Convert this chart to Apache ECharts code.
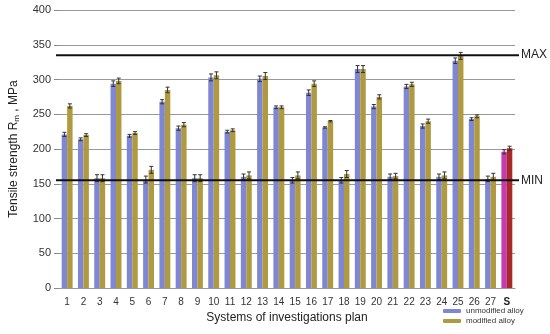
<!DOCTYPE html>
<html>
<head>
<meta charset="utf-8">
<script src="https://cdn.jsdelivr.net/npm/echarts@6/dist/echarts.min.js"></script>
<style>html,body{margin:0;padding:0;background:#fff}#c{width:550px;height:334px}</style>
</head>
<body>
<div id="c"></div>
<script>
const categories = ['1','2','3','4','5','6','7','8','9','10','11','12','13','14','15','16','17','18','19','20','21','22','23','24','25','26','27','S'];
const unmodified = [221,214,158,294,219,156,268,230,158,303,225,160,301,260,155,281,231,155,315,261,160,290,233,160,327,243,157,196];
const modified   = [262,220,158,298,223,170,285,235,158,306,227,162,305,260,162,294,240,164,315,275,161,293,240,162,334,247,160,201];
const unmodifiedErr = [3,2,5,4,2,5,3,3,5,5,2,4,4,2,4,4,1,4,5,3,4,3,3,4,4,2,4,3];
const modifiedErr   = [3,2,5,4,2,5,4,3,5,5,2,5,5,2,5,4,1,5,5,3,4,3,3,5,5,2,5,3];
const limitNames = ['MAX','MIN'];
const limitValues = [335,155];
const yTicks = [0,50,100,150,200,250,300,350,400];

const C_UN = '#7f87d2', C_MOD = '#b09a40', C_UN_S = '#c43cb0', C_MOD_S = '#a82a28';
const chart = echarts.init(document.getElementById('c'), null, {renderer:'canvas'});

function errRender(side){
  return function(params, api){
    const i = api.value(0), v = api.value(1), e = api.value(2);
    const c = api.coord([i, v]);
    const band = api.size([1,0])[0];
    const bw = band*0.335;
    const x = c[0] + side*bw/2;
    const top = api.coord([i, v+e])[1], bot = api.coord([i, v-e])[1];
    const cap = 2;
    const st = {stroke:'#333', lineWidth:1};
    return {type:'group', children:[
      {type:'line', shape:{x1:x,y1:top,x2:x,y2:bot}, style:st},
      {type:'line', shape:{x1:x-cap,y1:top,x2:x+cap,y2:top}, style:st},
      {type:'line', shape:{x1:x-cap,y1:bot,x2:x+cap,y2:bot}, style:st}
    ]};
  };
}

const option = {
  animation:false,
  textStyle:{fontFamily:'Liberation Sans, Arial, sans-serif'},
  grid:{left:55, right:35, top:10, bottom:46, containLabel:false},
  legend:{
    orient:'vertical', left:443, top:307, padding:0, itemWidth:18, itemHeight:4, itemGap:2,
    width:110, height:30,
    textStyle:{fontSize:8, color:'#333'},
    data:[{name:'unmodified alloy', itemStyle:{color:C_UN}},{name:'modified alloy', itemStyle:{color:C_MOD}}]
  },
  xAxis:{
    type:'category', data:categories,
    name:'Systems of investigations plan', nameLocation:'middle', nameGap:24,
    nameTextStyle:{fontSize:12, color:'#222'},
    axisLine:{show:true, lineStyle:{color:'#999'}},
    axisTick:{show:false},
    axisLabel:{interval:0, fontSize:10, color:'#333', margin:9,
      formatter:function(v){return v==='S' ? '{b|S}' : v;},
      rich:{b:{fontWeight:'bold', fontSize:10, color:'#222'}}}
  },
  yAxis:{
    type:'value', min:0, max:400, interval:50,
    name:'Tensile strength R{sub|m} , MPa', nameLocation:'middle', nameGap:38, nameRotate:90,
    nameTextStyle:{fontSize:12, color:'#222', rich:{sub:{fontSize:8, verticalAlign:'bottom', padding:[6,0,0,0]}}},
    axisLine:{show:false},
    axisTick:{show:true, length:5, lineStyle:{color:'#888'}},
    axisLabel:{fontSize:11, color:'#333', margin:8,
      formatter:function(v){return yTicks.indexOf(v)>=0 ? String(v) : '';}},
    splitLine:{lineStyle:{color:'#999', width:1}}
  },
  series:[
    {name:'unmodified alloy', type:'bar', barGap:'0%', barCategoryGap:'33%',
      data:unmodified.map((v,i)=>({value:v, itemStyle:{color: categories[i]==='S'?C_UN_S:C_UN}})),
      itemStyle:{color:C_UN}, z:2},
    {name:'modified alloy', type:'bar',
      data:modified.map((v,i)=>({value:v, itemStyle:{color: categories[i]==='S'?C_MOD_S:C_MOD}})),
      itemStyle:{color:C_MOD}, z:2},
    {type:'custom', renderItem:errRender(-1), z:5, silent:true,
      data:unmodified.map((v,i)=>[i,v,unmodifiedErr[i]]), encode:{x:0,y:1}},
    {type:'custom', renderItem:errRender(1), z:5, silent:true,
      data:modified.map((v,i)=>[i,v,modifiedErr[i]]), encode:{x:0,y:1}},
    {type:'custom', z:6, silent:true,
      data:limitValues.map((v,i)=>[0,v,i]), encode:{y:1},
      renderItem:function(params, api){
        const cs = params.coordSys;
        const y = api.coord([0, api.value(1)])[1];
        const name = limitNames[api.value(2)];
        return {type:'group', children:[
          {type:'line', shape:{x1:cs.x-3, y1:y, x2:cs.x+cs.width+4, y2:y}, style:{stroke:'#111', lineWidth:2}},
          {type:'text', x:cs.x+cs.width+6, y:y, style:{text:name, fill:'#222', fontSize:12, verticalAlign:'middle', align:'left', fontFamily:'Liberation Sans, Arial, sans-serif'}}
        ]};
      }}
  ]
};
chart.setOption(option);
</script>
</body>
</html>
